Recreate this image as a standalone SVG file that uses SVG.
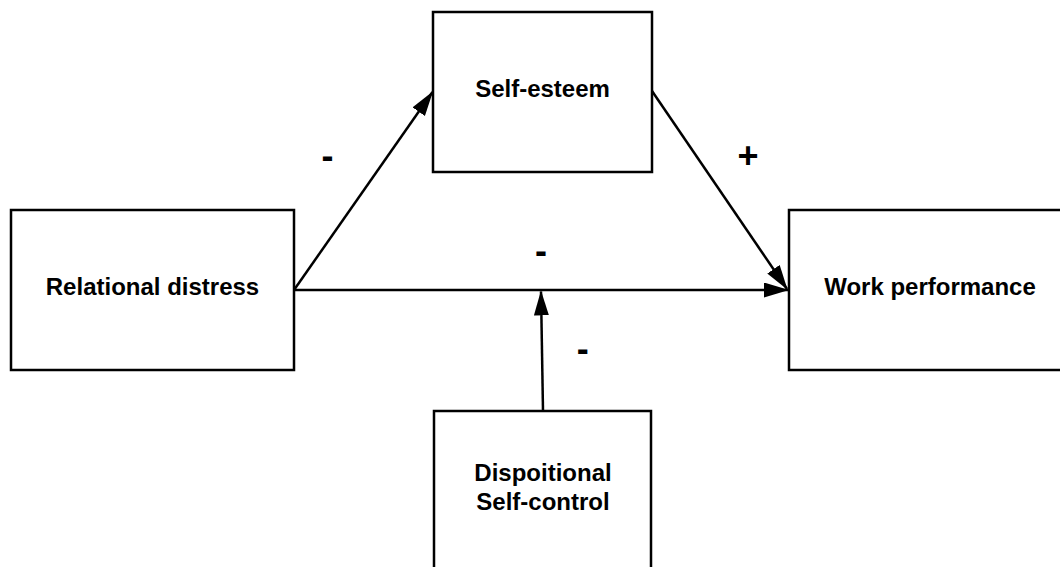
<svg xmlns="http://www.w3.org/2000/svg" width="1060" height="567" viewBox="0 0 1060 567">
<style>
.box{fill:#fff;stroke:#000;stroke-width:2.5}
.lbl{font-family:"Liberation Sans",Arial,sans-serif;font-weight:bold;font-size:24px;fill:#000;text-anchor:middle}
.sign{font-family:"Liberation Sans",Arial,sans-serif;font-weight:bold;font-size:36px;fill:#000;text-anchor:middle}
.edge{fill:none;stroke:#000;stroke-width:2.5}
</style>
<defs>
<marker id="arr" markerUnits="userSpaceOnUse" markerWidth="27" markerHeight="16" refX="24" refY="7.5" orient="auto">
<path d="M0,0 L25,7.5 L0,15 Z" fill="#000"/>
</marker>
</defs>
<rect width="1060" height="567" fill="#fff"/>
<g id="connectors">
<line class="edge" x1="294" y1="290" x2="788" y2="290" marker-end="url(#arr)"/>
<line class="edge" x1="294" y1="290" x2="432.5" y2="92" marker-end="url(#arr)"/>
<line class="edge" x1="652" y1="91" x2="787" y2="289" marker-end="url(#arr)"/>
<line class="edge" x1="543" y1="411" x2="541" y2="291.5" marker-end="url(#arr)"/>
</g>
<g id="node-relational">
<rect class="box" x="11" y="210" width="283" height="160"/>
<text class="lbl" x="152.5" y="295">Relational distress</text>
</g>
<g id="node-selfesteem">
<rect class="box" x="433" y="12" width="219" height="160"/>
<text class="lbl" x="542.5" y="96.5">Self-esteem</text>
</g>
<g id="node-work">
<rect class="box" x="789" y="210" width="282" height="160"/>
<text class="lbl" x="930" y="295">Work performance</text>
</g>
<g id="node-selfcontrol">
<rect class="box" x="434" y="411" width="217" height="170"/>
<text class="lbl" x="543" y="480.5">Dispoitional</text>
<text class="lbl" x="543" y="509.5">Self-control</text>
</g>
<g id="signs">
<text class="sign" x="327.5" y="167.5">-</text>
<text class="sign" x="748" y="167.5">+</text>
<text class="sign" x="541" y="262.5">-</text>
<text class="sign" x="582.7" y="360.5">-</text>
</g>
</svg>
